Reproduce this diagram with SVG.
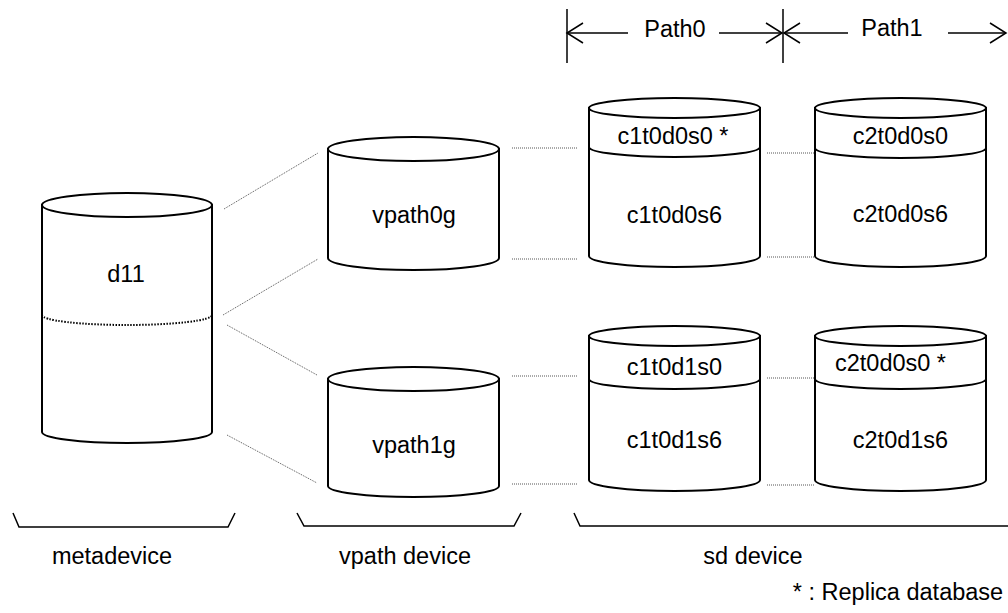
<svg xmlns="http://www.w3.org/2000/svg" width="1008" height="613" viewBox="0 0 1008 613">
  <defs>
    <style>
      .cyl { fill: #fff; stroke: #000; stroke-width: 2; }
      .sep { fill: none; stroke: #000; stroke-width: 2; }
      .sepdot { fill: none; stroke: #000; stroke-width: 2; stroke-dasharray: 1.5 1.5; }
      .link { fill: none; stroke: #555; stroke-width: 1; stroke-dasharray: 1 1; }
      .dim { fill: none; stroke: #000; stroke-width: 1.5; }
      .brk { fill: none; stroke: #000; stroke-width: 1.5; }
      text { font-family: "Liberation Sans", Arial, sans-serif; font-size: 23.5px; fill: #000; text-anchor: middle; }
    </style>
  </defs>
  <rect width="1008" height="613" fill="#fff"/>

  <!-- dotted connectors between devices -->
  <g id="connectors">
    <line class="link" x1="224" y1="209" x2="318" y2="153"/>
    <line class="link" x1="223" y1="315" x2="318" y2="259"/>
    <line class="link" x1="227" y1="325" x2="317" y2="375"/>
    <line class="link" x1="227" y1="435" x2="317" y2="483"/>
    <line class="link" x1="512" y1="148" x2="577" y2="148"/>
    <line class="link" x1="512" y1="259" x2="577" y2="259"/>
    <line class="link" x1="512" y1="376" x2="577" y2="376"/>
    <line class="link" x1="512" y1="484" x2="577" y2="484"/>
    <line class="link" x1="767" y1="153" x2="815" y2="153"/>
    <line class="link" x1="767" y1="257" x2="815" y2="257"/>
    <line class="link" x1="767" y1="378" x2="815" y2="378"/>
    <line class="link" x1="767" y1="485" x2="815" y2="485"/>
  </g>

  <!-- metadevice -->
  <g id="d11">
    <path class="cyl" d="M42,205 L42,432 A85,11 0 0 0 212,432 L212,205 Z"/>
    <ellipse class="cyl" cx="127" cy="205" rx="85" ry="12"/>
    <path class="sepdot" d="M42,315 A85,10 0 0 0 212,315"/>
    <text x="126" y="282">d11</text>
  </g>

  <!-- vpath devices -->
  <g id="vpath0g">
    <path class="cyl" d="M328,149 L328,258 A85.5,12 0 0 0 499,258 L499,149 Z"/>
    <ellipse class="cyl" cx="413.5" cy="149" rx="85.5" ry="12"/>
    <text x="414" y="223">vpath0g</text>
  </g>
  <g id="vpath1g">
    <path class="cyl" d="M328,379 L328,486 A85.5,11 0 0 0 499,486 L499,379 Z"/>
    <ellipse class="cyl" cx="413.5" cy="379" rx="85.5" ry="12"/>
    <text x="414" y="453">vpath1g</text>
  </g>

  <!-- sd devices, path 0 -->
  <g id="c1t0d0">
    <path class="cyl" d="M589,108 L589,256 A85.5,11 0 0 0 760,256 L760,108 Z"/>
    <ellipse class="cyl" cx="674.5" cy="108" rx="85.5" ry="10"/>
    <path class="sep" d="M589,147 A85.5,10 0 0 0 760,147"/>
    <text x="673" y="144">c1t0d0s0 *</text>
    <text x="674.5" y="223">c1t0d0s6</text>
  </g>
  <g id="c1t0d1">
    <path class="cyl" d="M589,336 L589,480 A85.5,11 0 0 0 760,480 L760,336 Z"/>
    <ellipse class="cyl" cx="674.5" cy="336" rx="85.5" ry="10"/>
    <path class="sep" d="M589,379 A85.5,10 0 0 0 760,379"/>
    <text x="674.5" y="375">c1t0d1s0</text>
    <text x="674.5" y="448">c1t0d1s6</text>
  </g>

  <!-- sd devices, path 1 -->
  <g id="c2t0d0">
    <path class="cyl" d="M815,108 L815,256 A85.5,11 0 0 0 986,256 L986,108 Z"/>
    <ellipse class="cyl" cx="900.5" cy="108" rx="85.5" ry="10"/>
    <path class="sep" d="M815,148 A85.5,10 0 0 0 986,148"/>
    <text x="900.5" y="144">c2t0d0s0</text>
    <text x="900.5" y="222">c2t0d0s6</text>
  </g>
  <g id="c2t0d1">
    <path class="cyl" d="M815,336 L815,480 A85.5,11 0 0 0 986,480 L986,336 Z"/>
    <ellipse class="cyl" cx="900.5" cy="336" rx="85.5" ry="10"/>
    <path class="sep" d="M815,379 A85.5,10 0 0 0 986,379"/>
    <text x="890.5" y="371">c2t0d0s0 *</text>
    <text x="900.5" y="448">c2t0d1s6</text>
  </g>

  <!-- path extent markers -->
  <g id="path-dimensions">
    <line class="dim" x1="567" y1="9" x2="567" y2="63"/>
    <line class="dim" x1="783" y1="9" x2="783" y2="63"/>
    <line class="dim" x1="567" y1="33" x2="628" y2="33"/>
    <polyline class="dim" points="583,23 567,33 583,43"/>
    <line class="dim" x1="719" y1="33" x2="782" y2="33"/>
    <polyline class="dim" points="766,23 782,33 766,43"/>
    <line class="dim" x1="784" y1="33" x2="848" y2="33"/>
    <polyline class="dim" points="800,23 784,33 800,43"/>
    <line class="dim" x1="948" y1="33" x2="1006" y2="33"/>
    <polyline class="dim" points="990,23 1006,33 990,43"/>
    <text x="675" y="37">Path0</text>
    <text x="892" y="36">Path1</text>
  </g>

  <!-- layer brackets and captions -->
  <g id="layer-labels">
    <polyline class="brk" points="13,513 19,527 228,527 235,513"/>
    <polyline class="brk" points="297,513 304,526 514,526 521,513" stroke-width="2.5"/>
    <polyline class="brk" points="574,513 580,526 1008,526"/>
    <text x="112" y="564">metadevice</text>
    <text x="405" y="564">vpath device</text>
    <text x="753" y="564">sd device</text>
    <text x="898" y="600">* : Replica database</text>
  </g>
</svg>
